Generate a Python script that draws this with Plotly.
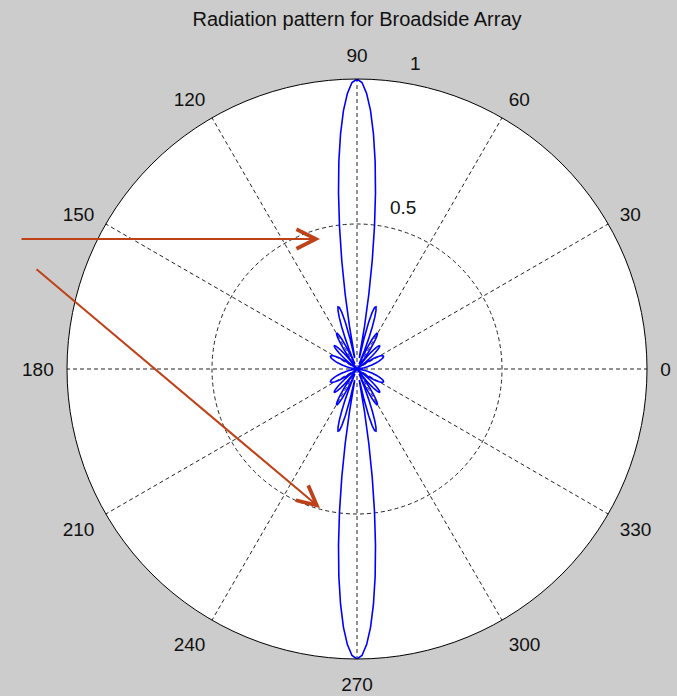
import plotly.graph_objects as go

# ---- data ----
title_text = "Radiation pattern for Broadside Array"
angle_deg = list(range(0, 361))  # sampling angles, degrees

gain_0_90 = [
    0.000, 0.000, 0.001, 0.002, 0.004, 0.006, 0.009, 0.012, 0.015, 0.019,
    0.024, 0.028, 0.034, 0.039, 0.045, 0.051, 0.057, 0.064, 0.070, 0.076,
    0.082, 0.087, 0.092, 0.096, 0.099, 0.101, 0.101, 0.100, 0.098, 0.094,
    0.088, 0.080, 0.071, 0.059, 0.046, 0.031, 0.015, 0.002, 0.020, 0.037,
    0.055, 0.071, 0.085, 0.097, 0.106, 0.111, 0.112, 0.109, 0.102, 0.090,
    0.074, 0.053, 0.030, 0.004, 0.024, 0.051, 0.078, 0.101, 0.121, 0.134,
    0.141, 0.141, 0.132, 0.115, 0.089, 0.057, 0.018, 0.025, 0.070, 0.114,
    0.154, 0.188, 0.212, 0.224, 0.221, 0.202, 0.165, 0.110, 0.039, 0.049,
    0.149, 0.260, 0.377, 0.495, 0.610, 0.718, 0.813, 0.892, 0.951, 0.988,
    1.000,
]
gain_91_180 = [
    0.988, 0.951, 0.892, 0.813, 0.718, 0.610, 0.495, 0.377, 0.260, 0.149,
    0.049, 0.039, 0.110, 0.165, 0.202, 0.221, 0.224, 0.212, 0.188, 0.154,
    0.114, 0.070, 0.025, 0.018, 0.057, 0.089, 0.115, 0.132, 0.141, 0.141,
    0.134, 0.121, 0.101, 0.078, 0.051, 0.024, 0.004, 0.030, 0.053, 0.074,
    0.090, 0.102, 0.109, 0.112, 0.111, 0.106, 0.097, 0.085, 0.071, 0.055,
    0.037, 0.020, 0.002, 0.015, 0.031, 0.046, 0.059, 0.071, 0.080, 0.088,
    0.094, 0.098, 0.100, 0.101, 0.101, 0.099, 0.096, 0.092, 0.087, 0.082,
    0.076, 0.070, 0.064, 0.057, 0.051, 0.045, 0.039, 0.034, 0.028, 0.024,
    0.019, 0.015, 0.012, 0.009, 0.006, 0.004, 0.002, 0.001, 0.000, 0.000,
]
gain_181_270 = [
    0.000, 0.001, 0.002, 0.004, 0.006, 0.009, 0.012, 0.015, 0.019, 0.024,
    0.028, 0.034, 0.039, 0.045, 0.051, 0.057, 0.064, 0.070, 0.076, 0.082,
    0.087, 0.092, 0.096, 0.099, 0.101, 0.101, 0.100, 0.098, 0.094, 0.088,
    0.080, 0.071, 0.059, 0.046, 0.031, 0.015, 0.002, 0.020, 0.037, 0.055,
    0.071, 0.085, 0.097, 0.106, 0.111, 0.112, 0.109, 0.102, 0.090, 0.074,
    0.053, 0.030, 0.004, 0.024, 0.051, 0.078, 0.101, 0.121, 0.134, 0.141,
    0.141, 0.132, 0.115, 0.089, 0.057, 0.018, 0.025, 0.070, 0.114, 0.154,
    0.188, 0.212, 0.224, 0.221, 0.202, 0.165, 0.110, 0.039, 0.049, 0.149,
    0.260, 0.377, 0.495, 0.610, 0.718, 0.813, 0.892, 0.951, 0.988, 1.000,
]
gain_271_360 = [
    0.988, 0.951, 0.892, 0.813, 0.718, 0.610, 0.495, 0.377, 0.260, 0.149,
    0.049, 0.039, 0.110, 0.165, 0.202, 0.221, 0.224, 0.212, 0.188, 0.154,
    0.114, 0.070, 0.025, 0.018, 0.057, 0.089, 0.115, 0.132, 0.141, 0.141,
    0.134, 0.121, 0.101, 0.078, 0.051, 0.024, 0.004, 0.030, 0.053, 0.074,
    0.090, 0.102, 0.109, 0.112, 0.111, 0.106, 0.097, 0.085, 0.071, 0.055,
    0.037, 0.020, 0.002, 0.015, 0.031, 0.046, 0.059, 0.071, 0.080, 0.088,
    0.094, 0.098, 0.100, 0.101, 0.101, 0.099, 0.096, 0.092, 0.087, 0.082,
    0.076, 0.070, 0.064, 0.057, 0.051, 0.045, 0.039, 0.034, 0.028, 0.024,
    0.019, 0.015, 0.012, 0.009, 0.006, 0.004, 0.002, 0.001, 0.000, 0.000,
]
angle_ticks = [0, 30, 60, 90, 120, 150, 180, 210, 240, 270, 300, 330]
angle_tick_labels = ["0", "30", "60", "90", "120", "150", "180", "210", "240", "270", "300", "330"]
radial_ticks = [0.5, 1.0]
radial_tick_labels = ["0.5", "1"]

gain = gain_0_90 + gain_91_180 + gain_181_270 + gain_271_360

W, H = 677, 696
FONT = "Liberation Sans, Arial, sans-serif"
TXT = "#111111"
ARROW = "#bf4118"
GRID_DASH = "4px,3px"

fig = go.Figure()
fig.add_trace(go.Scatterpolar(
    r=gain, theta=angle_deg, mode="lines",
    line=dict(color="#0000ff", width=1.6),
    showlegend=False, hoverinfo="skip",
))

fig.update_layout(
    width=W, height=H,
    paper_bgcolor="#cccccc",
    margin=dict(l=0, r=0, t=0, b=0),
    font=dict(family=FONT, size=19, color=TXT),
    title=dict(text=title_text, x=357 / W, xanchor="center",
               y=1 - 19 / H, yanchor="middle",
               font=dict(family=FONT, size=20, color=TXT)),
    polar=dict(
        domain=dict(x=[(357 - 290) / W, (357 + 290) / W],
                    y=[(H - 369 - 290) / H, (H - 369 + 290) / H]),
        bgcolor="white",
        angularaxis=dict(
            direction="counterclockwise", rotation=0,
            tickmode="array", tickvals=angle_ticks, ticktext=angle_tick_labels,
            showline=True, linecolor="#000000", linewidth=1,
            showgrid=True, gridcolor="#222222", gridwidth=1, griddash=GRID_DASH,
            ticks="outside", ticklen=9, tickcolor="rgba(0,0,0,0)",
            tickfont=dict(family=FONT, size=19, color=TXT),
        ),
        radialaxis=dict(
            range=[0, 1], tickmode="array", tickvals=radial_ticks,
            showticklabels=False, ticks="", showline=False,
            showgrid=True, gridcolor="#222222", gridwidth=1, griddash=GRID_DASH,
        ),
    ),
)

# radial tick labels (MATLAB-style placement)
for lbl, (px, py) in zip(radial_tick_labels, [(403, 207), (415, 63)]):
    fig.add_annotation(text=lbl, x=px / W, y=1 - py / H, xref="paper", yref="paper",
                       showarrow=False, xanchor="center", yanchor="middle",
                       font=dict(family=FONT, size=19, color=TXT))

# red pointer arrows
for (hx, hy), (tx, ty) in [((320, 239), (20, 239)), ((320, 508), (35, 268))]:
    fig.add_annotation(text="", x=hx / W, y=1 - hy / H, xref="paper", yref="paper",
                       ax=tx - hx, ay=ty - hy, axref="pixel", ayref="pixel",
                       showarrow=True, arrowhead=5, arrowsize=1.9, arrowwidth=2,
                       arrowcolor=ARROW, standoff=0)

fig.write_html("out.html",
               config={"displayModeBar": False},
               post_script="document.body.style.margin='0px';document.body.style.overflow='hidden';")
